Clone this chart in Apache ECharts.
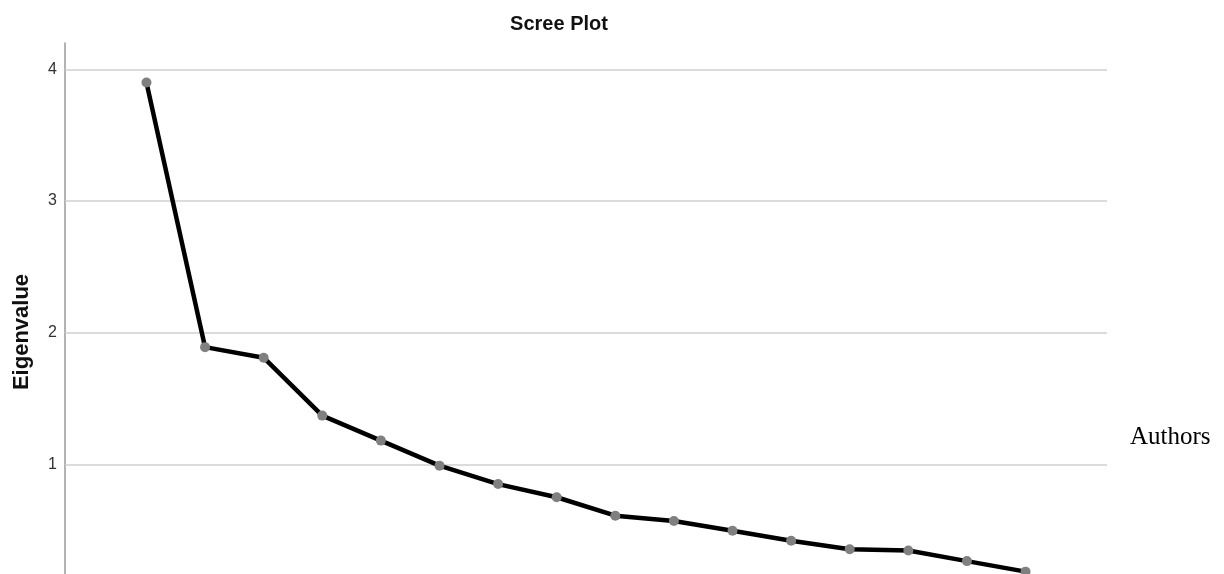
<!DOCTYPE html>
<html>
<head>
<meta charset="utf-8">
<script src="https://cdn.jsdelivr.net/npm/echarts@6/dist/echarts.min.js"></script>
<style>html,body{margin:0;padding:0;background:#fff;}#c{width:1224px;height:574px;}</style>
</head>
<body>
<div id="c"></div>
<script>
const componentNumbers = [1,2,3,4,5,6,7,8,9,10,11,12,13,14,15,16];
const eigenvalues = [3.90,1.89,1.81,1.37,1.18,0.99,0.85,0.75,0.61,0.57,0.495,0.42,0.355,0.345,0.265,0.185];
const yTicks = [1,2,3,4];
const titleText = 'Scree Plot';
const yLabel = 'Eigenvalue';
const sideNote = 'Authors';

const chart = echarts.init(document.getElementById('c'), null, {renderer:'canvas'});
chart.setOption({
  animation:false,
  backgroundColor:'#ffffff',
  title:{
    text:titleText, left:554, top:9, textAlign:'center',
    textStyle:{fontFamily:'Liberation Sans, Arial, sans-serif', fontWeight:'bold', fontSize:20, color:'#111'}
  },
  grid:{left:65, right:117, top:43, bottom:0, containLabel:false},
  xAxis:{
    type:'value', min:-0.39, max:17.39, show:false
  },
  yAxis:{
    type:'value', min:0.167, max:4.2,
    axisLine:{show:true, onZero:false, lineStyle:{color:'#9a9a9a', width:1.5}},
    axisTick:{show:false},
    axisLabel:{
      color:'#333', fontSize:16, fontFamily:'Liberation Sans, Arial, sans-serif', margin:8,
      customValues:yTicks,
      formatter:function(v){ return yTicks.indexOf(v) >= 0 ? String(v) : ''; }
    },
    splitLine:{show:false}
  },
  graphic:[
    {type:'text', x:22, y:332, rotation:Math.PI/2,
     style:{text:yLabel, fontFamily:'Liberation Sans, Arial, sans-serif', fontWeight:'bold', fontSize:22, fill:'#111', align:'center', verticalAlign:'middle'}},
    {type:'text', x:1130, y:437,
     style:{text:sideNote, fontFamily:'Liberation Serif, Times New Roman, serif', fontSize:25, fill:'#000', align:'left', verticalAlign:'middle'}}
  ],
  series:[{
    type:'line',
    data:componentNumbers.map((c,i)=>[c, eigenvalues[i]]),
    symbol:'circle', symbolSize:10,
    lineStyle:{color:'#000', width:4.5},
    itemStyle:{color:'#808080', borderWidth:0},
    clip:false,
    z:3,
    markLine:{
      silent:true, symbol:'none', label:{show:false}, animation:false, z:1,
      lineStyle:{color:'#cfcfcf', width:1.5, type:'solid'},
      emphasis:{disabled:true},
      data:yTicks.map(v=>({yAxis:v}))
    }
  }]
});
</script>
</body>
</html>
